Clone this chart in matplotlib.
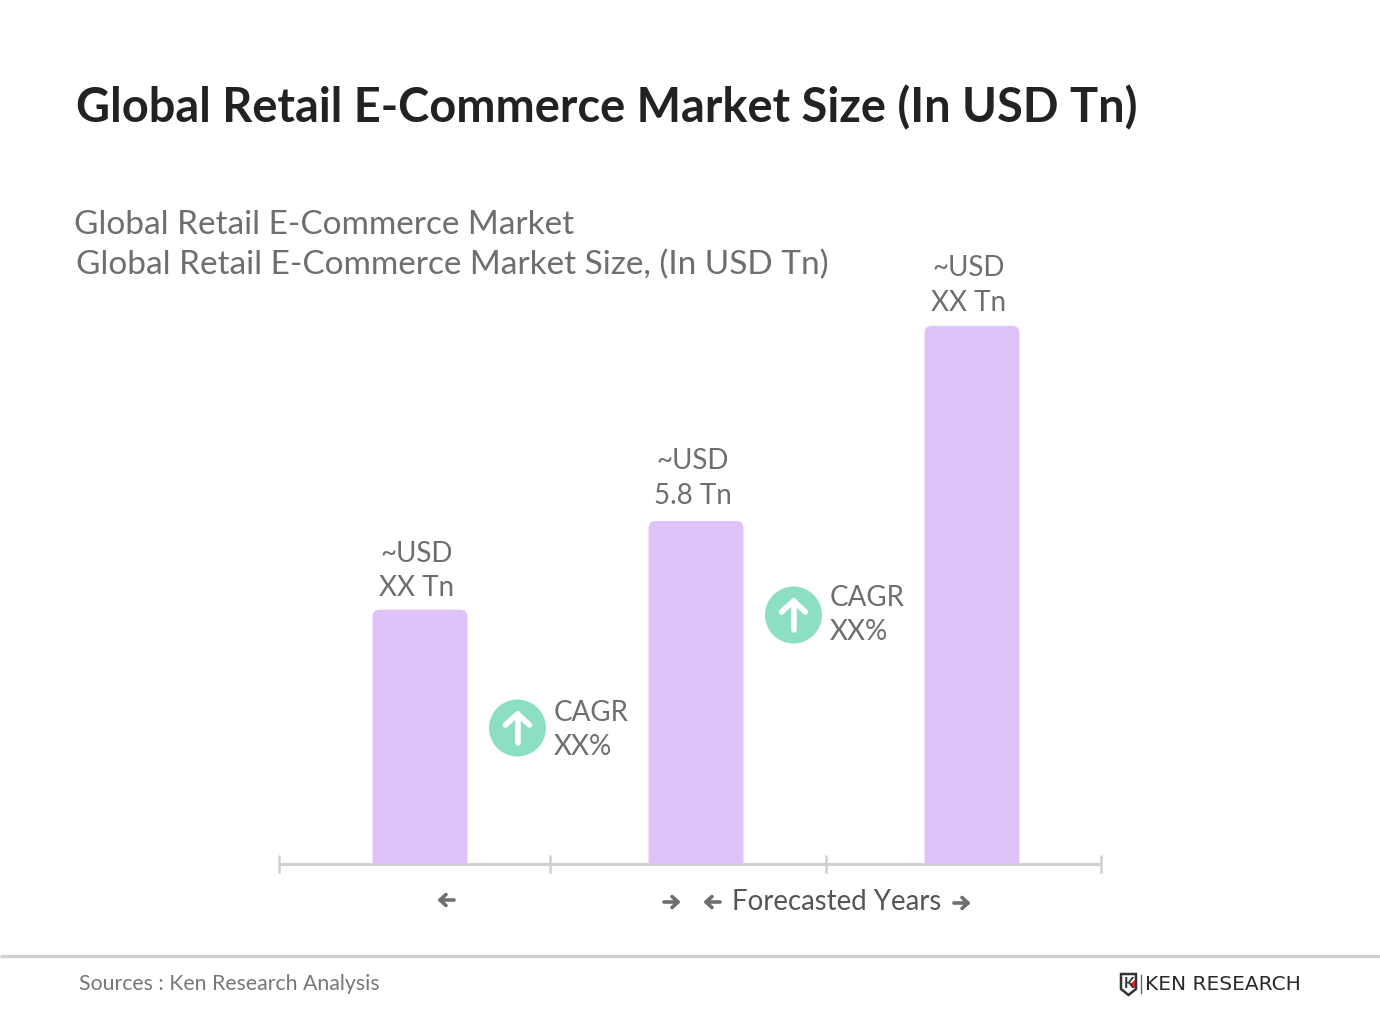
import matplotlib
matplotlib.use('Agg')
import matplotlib.pyplot as plt
from matplotlib.patches import FancyBboxPatch, Circle, Polygon

# chart values (only the middle one is printed, the others)
categories = [0, 1, 2]
values = [4.3, 5.8, 9.1]
value_labels = ['~USD\nXX Tn', '~USD\n5.8 Tn', '~USD\nXX Tn']
cagr_labels = ['CAGR\nXX%', 'CAGR\nXX%']

title = 'Global Retail E-Commerce Market Size (In USD Tn)'
sub1 = 'Global Retail E-Commerce Market'
sub2 = 'Global Retail E-Commerce Market Size, (In USD Tn)'
forecast = 'Forecasted Years'
source = 'Sources : Ken Research Analysis'

W, H = 1380, 1035
GREY = '#6e6e6e'
PURPLE = '#dfc2f8'
GREEN = '#8ddfc3'
LINE = '#cfcfcf'
plt.rcParams['font.family'] = ['Lato', 'DejaVu Sans']

fig = plt.figure(figsize=(W / 100, H / 100), dpi=100, facecolor='white')

# overlay in pixels for the texts and decorations
bg = fig.add_axes([0, 0, 1, 1])
bg.set_xlim(0, W)
bg.set_ylim(H, 0)
bg.axis('off')

# bar axes: x from 279 to 1101 px, baseline at 864 px
left, right, base, top = 279, 1101, 864, 200
ax = fig.add_axes([left / W, 1 - base / H, (right - left) / W, (base - top) / H])
ax.patch.set_alpha(0)
px_x = 276
px_y = 343 / values[1]
ax.set_xlim((left - 420) / px_x, (right - 420) / px_x)
ax.set_ylim(0, (base - top) / px_y)
ax.axis('off')

for c, v in zip(categories, values):
    bar = FancyBboxPatch((c - 0.172, -1), 0.344, v + 1,
                         boxstyle='round,pad=0,rounding_size=0.027',
                         mutation_aspect=px_x / px_y,
                         fc=PURPLE, ec='none')
    ax.add_patch(bar)
    bar.set_clip_path(ax.patch)

# the labels do not sit at quite the same gap above each bar
for c, v, lab, gap in zip(categories, values, value_labels, [8.5, 12, 10]):
    ax.annotate(lab, (c, v), xytext=(-3, gap), textcoords='offset pixels',
                ha='center', va='bottom', fontsize=20, color=GREY, linespacing=1.41)

# axis line with period ticks
bg.plot([left, right], [863.5, 863.5], color=LINE, lw=2.2, solid_capstyle='butt')
for x in [278.5, 549.5, 825.5, 1100.5]:
    bg.plot([x, x], [855, 873], color=LINE, lw=1.8, solid_capstyle='butt')


def arrow(x, y, d):
    # small horizontal arrow, d=1 right, d=-1 left, x is the centre
    kw = dict(color=GREY, lw=2.6, solid_capstyle='round', solid_joinstyle='round')
    bg.plot([x - 7, x + 7], [y, y], **kw)
    bg.plot([x + d * 1, x + d * 7, x + d * 1], [y - 5.5, y, y + 5.5], **kw)


arrow(447, 900, -1)
arrow(671, 902, 1)
arrow(713, 902, -1)
arrow(961, 903, 1)
bg.text(732, 902, forecast, fontsize=19.9, color='#555555', va='center', ha='left')

# CAGR badges
for (cx, cy), lab, ty in zip([(517.5, 728), (793.5, 615)], cagr_labels, [730, 615]):
    bg.add_patch(Circle((cx, cy), 28.5, fc=GREEN, ec='none'))
    kw = dict(color='white', lw=4, solid_capstyle='round', solid_joinstyle='round')
    bg.plot([cx, cx], [cy - 14, cy + 15], **kw)
    bg.plot([cx - 12, cx, cx + 12], [cy - 3, cy - 14, cy - 3], **kw)
    bg.text(cx + 36.5, ty, lab, fontsize=20, color=GREY, va='center', ha='left', linespacing=1.39)

bg.text(75.5, 107.5, title, fontsize=33.87, fontweight='bold', color='#222222', va='center', ha='left')
bg.text(74.5, 225.5, sub1, fontsize=24, color=GREY, va='center', ha='left')
bg.text(75.5, 264.5, sub2, fontsize=24, color=GREY, va='center', ha='left')

# footer
bg.plot([0, W], [956, 956], color=LINE, lw=2.4, solid_capstyle='butt')
bg.text(79, 984, source, fontsize=15.3, color='#777777', va='center', ha='left')

# logo
bg.add_patch(Polygon([(1121, 974), (1136, 974), (1136, 989), (1128.5, 995), (1121, 989)],
                     closed=True, fc='white', ec='#333333', lw=1.8))
bg.text(1128.5, 983.5, 'K', fontsize=11, fontweight='bold', color='#333333', va='center', ha='center')
bg.add_patch(Polygon([(1130, 984), (1135, 980), (1135, 988)], closed=True, fc='#d8232a', ec='none'))
bg.plot([1141, 1141], [975, 993], color='#666666', lw=1)
bg.text(1145, 984.5, 'KEN RESEARCH', fontsize=14.5, color='#2a2a2a', va='center', ha='left',
        family=['DejaVu Sans'])

fig.savefig('out.png', dpi=100, facecolor='white')
